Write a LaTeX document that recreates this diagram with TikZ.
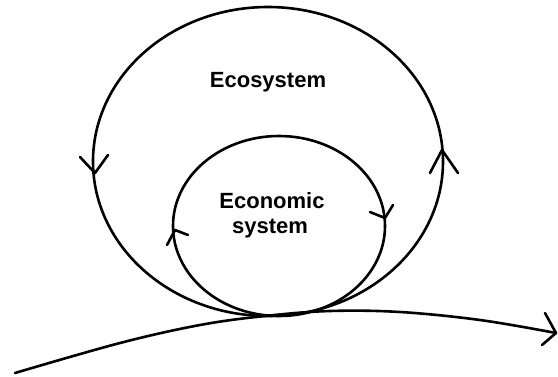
\documentclass[tikz,border=0pt]{standalone}
\usepackage{fontspec}
\setmainfont{Liberation Sans}
\begin{document}
\begin{tikzpicture}[x=1pt,y=-1pt,
  line/.style={line width=2.6pt, line cap=round, line join=round},
  lbl/.style={font=\fontsize{22}{25}\selectfont\bfseries, anchor=base, inner sep=0pt}]
\useasboundingbox (0,0) rectangle (558,376);
% outer ecosystem
\draw[line] (268,161.5) ellipse [x radius=175, y radius=154.5];
% inner economic system
\draw[line] (279,226) ellipse [x radius=106, y radius=90];
% arrowheads outer
\draw[line] (80,157) -- (95,173) -- (108,155);
\draw[line] (430,173) -- (442,150) -- (458,173);
% arrowheads inner
\draw[line] (370,212) -- (385,218) -- (393,205);
\draw[line] (167,245) -- (175,230) -- (188,235);
% bottom curve
\coordinate (cs) at (15,373);
\coordinate (ce) at (556,333);
\draw[line] plot[smooth, tension=0.6] coordinates {(cs) (120,343) (200,325) (265,316) (330,311) (400,312) (480,320) (ce)};
\draw[line] (545,313) -- (ce) -- (542,345);
% labels
\node[lbl] (eco) at (268,87) {Ecosystem};
\node[lbl] (econ) at (272,208) {Economic};
\node[lbl] (sys) at (270,233) {system};
\end{tikzpicture}
\end{document}
